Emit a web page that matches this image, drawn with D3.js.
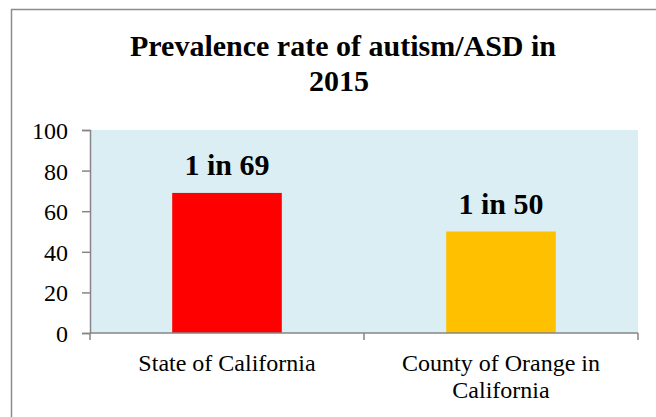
<!DOCTYPE html>
<html>
<head>
<meta charset="utf-8">
<script src="https://cdn.jsdelivr.net/npm/d3@7"></script>
<style>
  html, body { margin: 0; padding: 0; background: #fff; }
  svg { display: block; }
  text { font-family: "Liberation Serif", "DejaVu Serif", serif; fill: #000; }
</style>
</head>
<body>
<svg id="chart" width="656" height="417"></svg>
<script>
const categories = ["State of California", "County of Orange in California"];
const categoryLines = [["State of California"], ["County of Orange in", "California"]];
const values = [69, 50];
const valueLabels = ["1 in 69", "1 in 50"];
const barColors = ["#ff0000", "#ffc000"];
const yTicks = [0, 20, 40, 60, 80, 100];
const titleLines = ["Prevalence rate of autism/ASD in", "2015"];

const svg = d3.select("#chart");
const plot = { left: 90, right: 638, top: 130, bottom: 333 };

// outer chart border (extends past right/bottom edges, as in the reference crop)
svg.append("rect")
  .attr("x", 11.5).attr("y", 9.5)
  .attr("width", 700).attr("height", 440)
  .attr("fill", "#fff").attr("stroke", "#8c8c8c").attr("stroke-width", 1.5);

const x = d3.scaleBand()
  .domain(categories)
  .range([plot.left, plot.right])
  .paddingInner(0.6).paddingOuter(0.3);

const y = d3.scaleLinear().domain([0, 100]).range([plot.bottom, plot.top]);

// plot background
svg.append("rect")
  .attr("x", plot.left).attr("y", plot.top)
  .attr("width", plot.right - plot.left).attr("height", plot.bottom - plot.top)
  .attr("fill", "#dbeef3");

// bars
svg.selectAll("rect.bar").data(values).join("rect")
  .attr("class", "bar")
  .attr("x", (d, i) => x(categories[i]))
  .attr("width", x.bandwidth())
  .attr("y", d => y(d))
  .attr("height", d => y(0) - y(d))
  .attr("fill", (d, i) => barColors[i]);

// value labels
svg.selectAll("text.vl").data(values).join("text")
  .attr("class", "vl")
  .attr("x", (d, i) => x(categories[i]) + x.bandwidth() / 2)
  .attr("y", d => y(d) - 18)
  .attr("text-anchor", "middle")
  .style("font-size", "30px").style("font-weight", "bold")
  .text((d, i) => valueLabels[i]);

// y axis
const yAxis = svg.append("g")
  .attr("transform", `translate(${plot.left},0)`)
  .call(d3.axisLeft(y).tickValues(yTicks).tickSize(8).tickPadding(14));
yAxis.attr("font-family", null).attr("font-size", null);
yAxis.select(".domain").attr("stroke", "#868686").attr("stroke-width", 1.5);
yAxis.selectAll(".tick line").attr("stroke", "#868686").attr("stroke-width", 1.5);
yAxis.selectAll(".tick text")
  .style("font-family", "'Liberation Serif', serif").style("font-size", "24px").attr("fill", "#000")
  .attr("dy", "0.35em");

// x axis
const xAxisG = svg.append("g").attr("transform", `translate(0,${plot.bottom})`);
xAxisG.append("line")
  .attr("x1", plot.left).attr("x2", plot.right)
  .attr("stroke", "#868686").attr("stroke-width", 1.5);
const bounds = [plot.left, (plot.left + plot.right) / 2, plot.right];
xAxisG.selectAll("line.xt").data(bounds).join("line")
  .attr("class", "xt")
  .attr("x1", d => d).attr("x2", d => d)
  .attr("y1", 0).attr("y2", 7)
  .attr("stroke", "#868686").attr("stroke-width", 1.5);

categoryLines.forEach((lines, i) => {
  const cx = x(categories[i]) + x.bandwidth() / 2;
  const t = svg.append("text")
    .attr("text-anchor", "middle")
    .style("font-size", "24px");
  lines.forEach((ln, j) => {
    t.append("tspan").attr("x", cx).attr("y", 371 + j * 27).text(ln);
  });
});

// title
const title = svg.append("text")
  .attr("text-anchor", "middle")
  .style("font-size", "30px").style("font-weight", "bold");
title.append("tspan").attr("x", 343).attr("y", 56).text(titleLines[0]);
title.append("tspan").attr("x", 339).attr("y", 91).text(titleLines[1]);
</script>
</body>
</html>
